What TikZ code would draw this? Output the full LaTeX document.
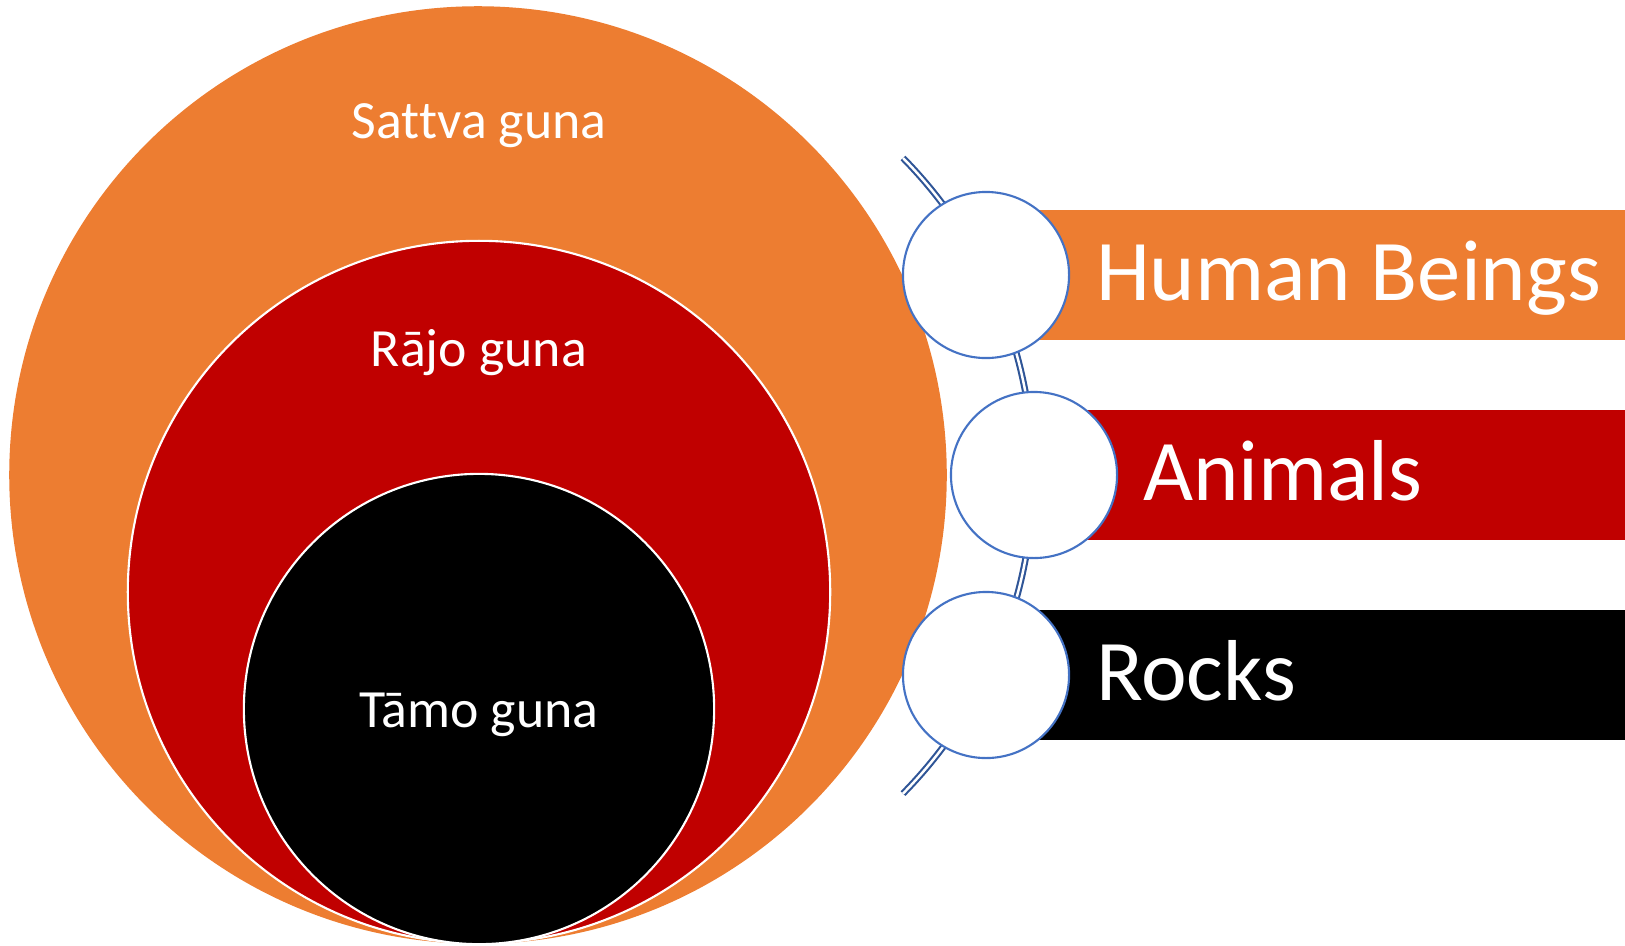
\documentclass[tikz,border=0pt]{standalone}
\usepackage{fontspec}
\setmainfont{Carlito}[Ligatures={NoCommon,NoContextual}]
\usetikzlibrary{positioning,backgrounds,calc}
\tikzset{
	gunaDisc/.style={circle, inner sep=0, outer sep=0, fill=#1},
	gunaEdge/.style={draw=white, line width=0.6pt},
	bandBar/.style={anchor=west, inner sep=0, outer sep=0, minimum height=1.3cm, fill=#1},
	ringDot/.style={circle, inner sep=0, outer sep=0, minimum size=1.66cm, fill=white, draw=ringColor, line width=0.6pt},
	bandText/.style={anchor=base west, inner sep=0, font=\fontsize{24.6}{29}\selectfont}
}
\definecolor{sattvaColor}{HTML}{ED7D31}
\definecolor{rajoColor}{HTML}{C00000}
\definecolor{tamoColor}{HTML}{000000}
\definecolor{ringColor}{HTML}{4472C4}
\definecolor{arcColor}{HTML}{2F5597}
\newcommand{\guna}[1]{{#1} guna}

\begin{document}
\begin{tikzpicture}[x=0.01cm, y=-0.01cm, semithick, text=white,
font=\fontsize{15.3}{18}\selectfont]
\useasboundingbox (0,0) rectangle (1625,945);
\node[gunaDisc=sattvaColor, minimum size=9.37cm] (sattva) at (478, 475) {};
\node[gunaDisc=rajoColor, gunaEdge, minimum size=7.02cm] (rajo) at (479, 592) {};
\node[gunaDisc=tamoColor, gunaEdge, minimum size=4.70cm] (tamo) at (479, 709) {};
\node[anchor=base, inner sep=0] (sattvaLbl) at (479, 138) {\guna{Sat\kern0pt tva}};
\node[anchor=base, inner sep=0] (rajoLbl) at (479, 366) {\guna{Rājo}};
\node[anchor=base, inner sep=0] (tamoLbl) at (479, 727) {\guna{Tāmo}};
\node[bandBar=sattvaColor, minimum width=6.39cm] (hbBar) at (986, 275) {};
\node[bandBar=rajoColor, minimum width=5.91cm] (anBar) at (1034, 475) {};
\node[bandBar=tamoColor, minimum width=6.39cm] (rkBar) at (986, 675) {};
\coordinate (arcTop) at (903, 158);
\draw[arcColor, line width=0.6pt, double=white, double distance=0.7pt] (arcTop) arc[start angle=-44.55, end angle=44.55, radius=453];
\node[ringDot] (hbDot) at (986, 275) {};
\node[ringDot] (anDot) at (1034, 475) {};
\node[ringDot] (rkDot) at (986, 675) {};
\node[bandText] (hb) at (1095, 300) {Human Beings};
\node[bandText] (an) at (1142, 500) {Animals};
\node[bandText] (rk) at (1095, 700) {Rocks};
\end{tikzpicture}
\end{document}
